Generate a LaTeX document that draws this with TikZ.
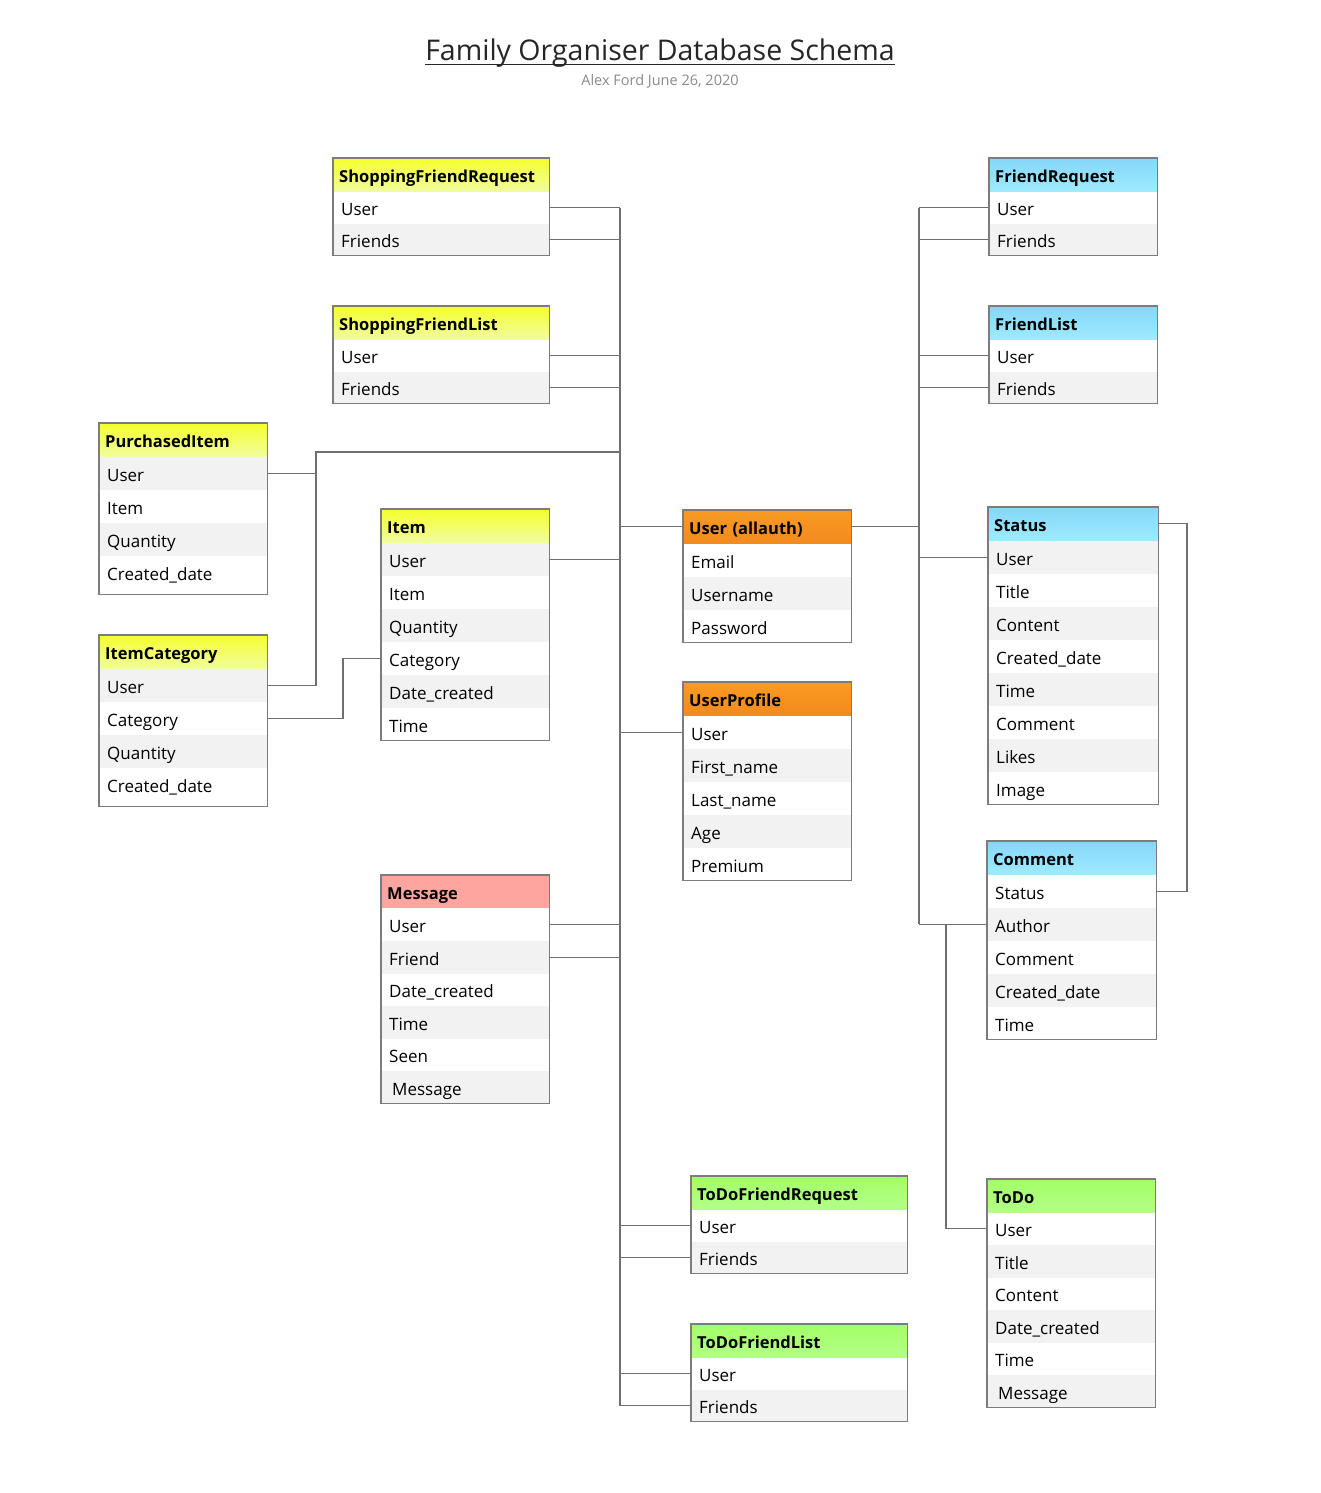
\documentclass[tikz,border=0pt]{standalone}
\usepackage{fontspec}
\setmainfont{Open Sans}
\usetikzlibrary{calc}
\definecolor{rowgray}{HTML}{F2F2F2}
\definecolor{bordergray}{HTML}{7C7C7C}
\definecolor{linegray}{HTML}{707070}
\definecolor{yTop}{HTML}{F5FF2C}
\definecolor{yBot}{HTML}{F1FD9E}
\definecolor{bTop}{HTML}{86D6F8}
\definecolor{bBot}{HTML}{9EEBFF}
\definecolor{oTop}{HTML}{F99A22}
\definecolor{oBot}{HTML}{F28B1E}
\definecolor{gTop}{HTML}{A2FF66}
\definecolor{gBot}{HTML}{B3FF88}
\definecolor{sal}{HTML}{FFA5A0}
\definecolor{titlecol}{HTML}{262626}
\definecolor{subcol}{HTML}{8A8A8A}
\tikzset{
  hdrbase/.style={anchor=north west, inner xsep=6pt, inner ysep=0pt, minimum height=33pt,
    text height=16pt, text depth=0pt, align=left, font=\fontsize{16.5}{20}\selectfont\bfseries},
  rowbase/.style={anchor=north west, inner xsep=8pt, inner ysep=0pt,
    text height=16pt, text depth=0pt, align=left, font=\fontsize{17}{20}\selectfont},
  yelhdr/.style={top color=yTop, bottom color=yBot},
  bluhdr/.style={top color=bTop, bottom color=bBot},
  orghdr/.style={top color=oTop, bottom color=oBot},
  grnhdr/.style={top color=gTop, bottom color=gBot},
  salhdr/.style={fill=sal},
  tblborder/.style={draw=bordergray, line width=1.3pt},
  link/.style={draw=linegray, line width=1.2pt},
}
\def\lastextra{0}
% #1 name, #2 x, #3 y, #4 width, #5 header style, #6 first row gray (1) or white (0), #7 row height, #8 title, #9 rows
\newcommand\mktable[9]{%
  \pgfmathsetmacro\hdrw{#4-12}%
  \pgfmathsetmacro\roww{#4-16}%
  \node[hdrbase,#5,text width=\hdrw pt] (#1) at (#2,#3) {#8};
  \foreach \r [count=\i] in {#9}{%
    \pgfmathtruncatemacro\shade{mod(\i+#6+1,2)}%
    \ifnum\shade=0 \def\rowfill{white}\else\def\rowfill{rowgray}\fi
    \node[rowbase,fill=\rowfill,minimum height=#7pt,text width=\roww pt] (#1-\i)
      at ($(#1.south west)+(0,{(\i-1)*#7})$) {\r};
    \xdef\lastrow{\i}%
  }
  \draw[tblborder] (#1.north west) rectangle ($(#1-\lastrow.south east)+(0,\lastextra)$);
}
\begin{document}
\begin{tikzpicture}[x=1pt,y=-1pt]
\useasboundingbox (0,0) rectangle (1320,1493);
\fill[white] (0,0) rectangle (1320,1493);

% title
\node[anchor=base, font=\fontsize{28.5}{32}\selectfont, text=titlecol, inner sep=0pt] (title) at (660,61) {Family Organiser Database Schema};
\draw[titlecol, line width=1.4pt] ([yshift=-3.5pt]title.base west) -- ([yshift=-3.5pt]title.base east);
\node[anchor=base, font=\fontsize{14.5}{17}\selectfont, text=subcol, inner sep=0pt] (sub) at (660,85.5) {Alex Ford June 26, 2020};

% trunk coordinates
\coordinate (tL) at (620,0);
\coordinate (tR) at (919,0);
\coordinate (tR2) at (946,0);
\coordinate (jP) at (316,452);
\coordinate (jC) at (343,0);
\coordinate (jS) at (1187,0);

% tables
\mktable{sfr}{333}{158}{216}{yelhdr}{0}{32}{ShoppingFriendRequest}{User,Friends}
\mktable{sfl}{333}{306}{216}{yelhdr}{0}{32}{ShoppingFriendList}{User,Friends}
\mktable{fr}{989}{158}{168}{bluhdr}{0}{32}{FriendRequest}{User,Friends}
\mktable{fl}{989}{306}{168}{bluhdr}{0}{32}{FriendList}{User,Friends}
\def\lastextra{6}
\mktable{pi}{99}{423}{168}{yelhdr}{1}{33}{PurchasedItem}{User,Item,Quantity,Created\_date}
\mktable{ic}{99}{635}{168}{yelhdr}{1}{33}{ItemCategory}{User,Category,Quantity,Created\_date}
\def\lastextra{0}
\mktable{it}{381}{509}{168}{yelhdr}{1}{33}{Item}{User,Item,Quantity,Category,Date\_created,Time}
\mktable{ua}{683}{510}{168}{orghdr}{0}{33}{User (allauth)}{Email,Username,Password}
\mktable{up}{683}{682}{168}{orghdr}{0}{33}{UserProfile}{User,First\_name,Last\_name,Age,Premium}
\mktable{st}{988}{507}{170}{bluhdr}{1}{33}{Status}{User,Title,Content,Created\_date,Time,Comment,Likes,Image}
\mktable{cm}{987}{841}{169}{bluhdr}{0}{33}{Comment}{Status,Author,Comment,Created\_date,Time}
\mktable{ms}{381}{875}{168}{salhdr}{0}{32.5}{Message}{User,Friend,Date\_created,Time,Seen,\hspace{3pt}Message}
\mktable{tdfr}{691}{1176}{216}{grnhdr}{0}{32}{ToDoFriendRequest}{User,Friends}
\mktable{tdfl}{691}{1324}{216}{grnhdr}{0}{32}{ToDoFriendList}{User,Friends}
\mktable{td}{987}{1179}{168}{grnhdr}{0}{32.5}{ToDo}{User,Title,Content,Date\_created,Time,\hspace{3pt}Message}

% left trunk
\draw[link] (tL |- sfr-1.east) -- (tL |- tdfl-2.west);
\foreach \n in {sfr-1,sfr-2,sfl-1,sfl-2,it-1,ms-1,ms-2}{\draw[link] (\n.east) -- (tL |- \n.east);}
\foreach \n in {ua,up-1,tdfr-1,tdfr-2,tdfl-1,tdfl-2}{\draw[link] (tL |- \n.west) -- (\n.west);}
% purchased item / item category
\draw[link] (pi-1.east) -- (jP |- pi-1.east);
\draw[link] (tL |- jP) -- (jP) -- (jP |- ic-1.east) -- (ic-1.east);
\draw[link] (ic-2.east) -- (jC |- ic-2.east) -- (jC |- it-4.west) -- (it-4.west);

% right trunk
\draw[link] (tR |- fr-1.west) -- (tR |- cm-2.west);
\foreach \n in {fr-1,fr-2,fl-1,fl-2,st-1,cm-2}{\draw[link] (tR |- \n.west) -- (\n.west);}
\draw[link] (ua.east) -- (tR |- ua.east);
\draw[link] (tR2 |- cm-2.west) -- (tR2 |- td-1.west) -- (td-1.west);
\draw[link] (st.east) -- (jS |- st.east) -- (jS |- cm-1.east) -- (cm-1.east);
\end{tikzpicture}
\end{document}
